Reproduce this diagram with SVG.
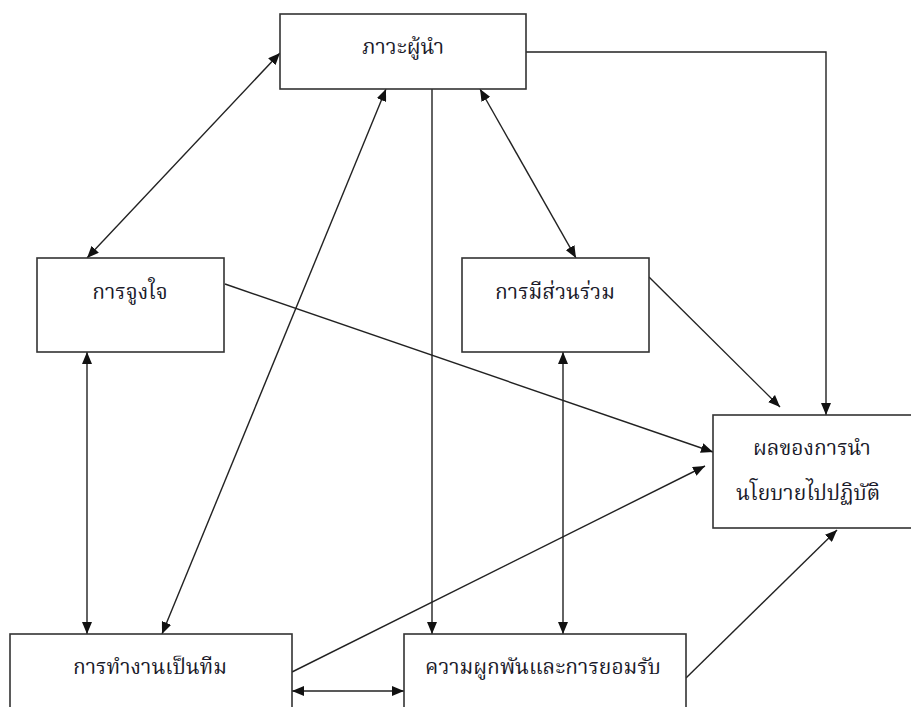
<svg xmlns="http://www.w3.org/2000/svg" width="911" height="707" viewBox="0 0 911 707">
<style>
.box{fill:#fff;stroke:#333;stroke-width:1.6}
.lbl{font-family:"Noto Serif Thai","Noto Sans Thai","Liberation Serif",serif;font-size:21px;fill:#1a1a2a;text-anchor:middle}
.c{fill:none;stroke:#222;stroke-width:1.4}
</style>
<defs>
<marker id="ah" markerUnits="userSpaceOnUse" markerWidth="13" markerHeight="10" refX="12" refY="5" orient="auto-start-reverse" viewBox="0 0 13 10">
<path d="M0,0 L12,5 L0,10 z" fill="#111"/>
</marker>
</defs>
<rect width="911" height="707" fill="#fff"/>
<g id="connectors">
<line class="c" x1="280" y1="53" x2="87" y2="258" marker-start="url(#ah)" marker-end="url(#ah)"/>
<line class="c" x1="386" y1="89" x2="162" y2="634" marker-start="url(#ah)" marker-end="url(#ah)"/>
<line class="c" x1="432" y1="89" x2="432" y2="634" marker-end="url(#ah)"/>
<line class="c" x1="480" y1="89" x2="576" y2="258" marker-start="url(#ah)" marker-end="url(#ah)"/>
<line class="c" x1="225" y1="284" x2="713" y2="452" marker-end="url(#ah)"/>
<line class="c" x1="649" y1="277" x2="780" y2="407" marker-end="url(#ah)"/>
<line class="c" x1="87" y1="352" x2="87" y2="634" marker-start="url(#ah)" marker-end="url(#ah)"/>
<line class="c" x1="563" y1="352" x2="563" y2="634" marker-start="url(#ah)" marker-end="url(#ah)"/>
<line class="c" x1="292" y1="672" x2="705" y2="466" marker-end="url(#ah)"/>
<line class="c" x1="292" y1="691" x2="404" y2="691" marker-start="url(#ah)" marker-end="url(#ah)"/>
<line class="c" x1="686" y1="678" x2="837" y2="530" marker-end="url(#ah)"/>
<polyline class="c" points="526,52 826,52 826,415" marker-end="url(#ah)"/>
</g>
<g id="leadership">
<rect class="box" x="280" y="14" width="246" height="75"/>
<text class="lbl" x="403" y="54">ภาวะผู้นำ</text>
</g>
<g id="motivation">
<rect class="box" x="37" y="258" width="187" height="94"/>
<text class="lbl" x="130" y="299">การจูงใจ</text>
</g>
<g id="participation">
<rect class="box" x="462" y="258" width="187" height="94"/>
<text class="lbl" x="555" y="299">การมีส่วนร่วม</text>
</g>
<g id="outcome">
<rect class="box" x="713" y="415" width="210" height="113"/>
<text class="lbl" x="812" y="455">ผลของการนำ</text>
<text class="lbl" x="808" y="500">นโยบายไปปฏิบัติ</text>
</g>
<g id="teamwork">
<rect class="box" x="10" y="634" width="282" height="90"/>
<text class="lbl" x="150" y="674">การทำงานเป็นทีม</text>
</g>
<g id="commitment">
<rect class="box" x="404" y="634" width="282" height="90"/>
<text class="lbl" x="543" y="674">ความผูกพันและการยอมรับ</text>
</g>
</svg>
